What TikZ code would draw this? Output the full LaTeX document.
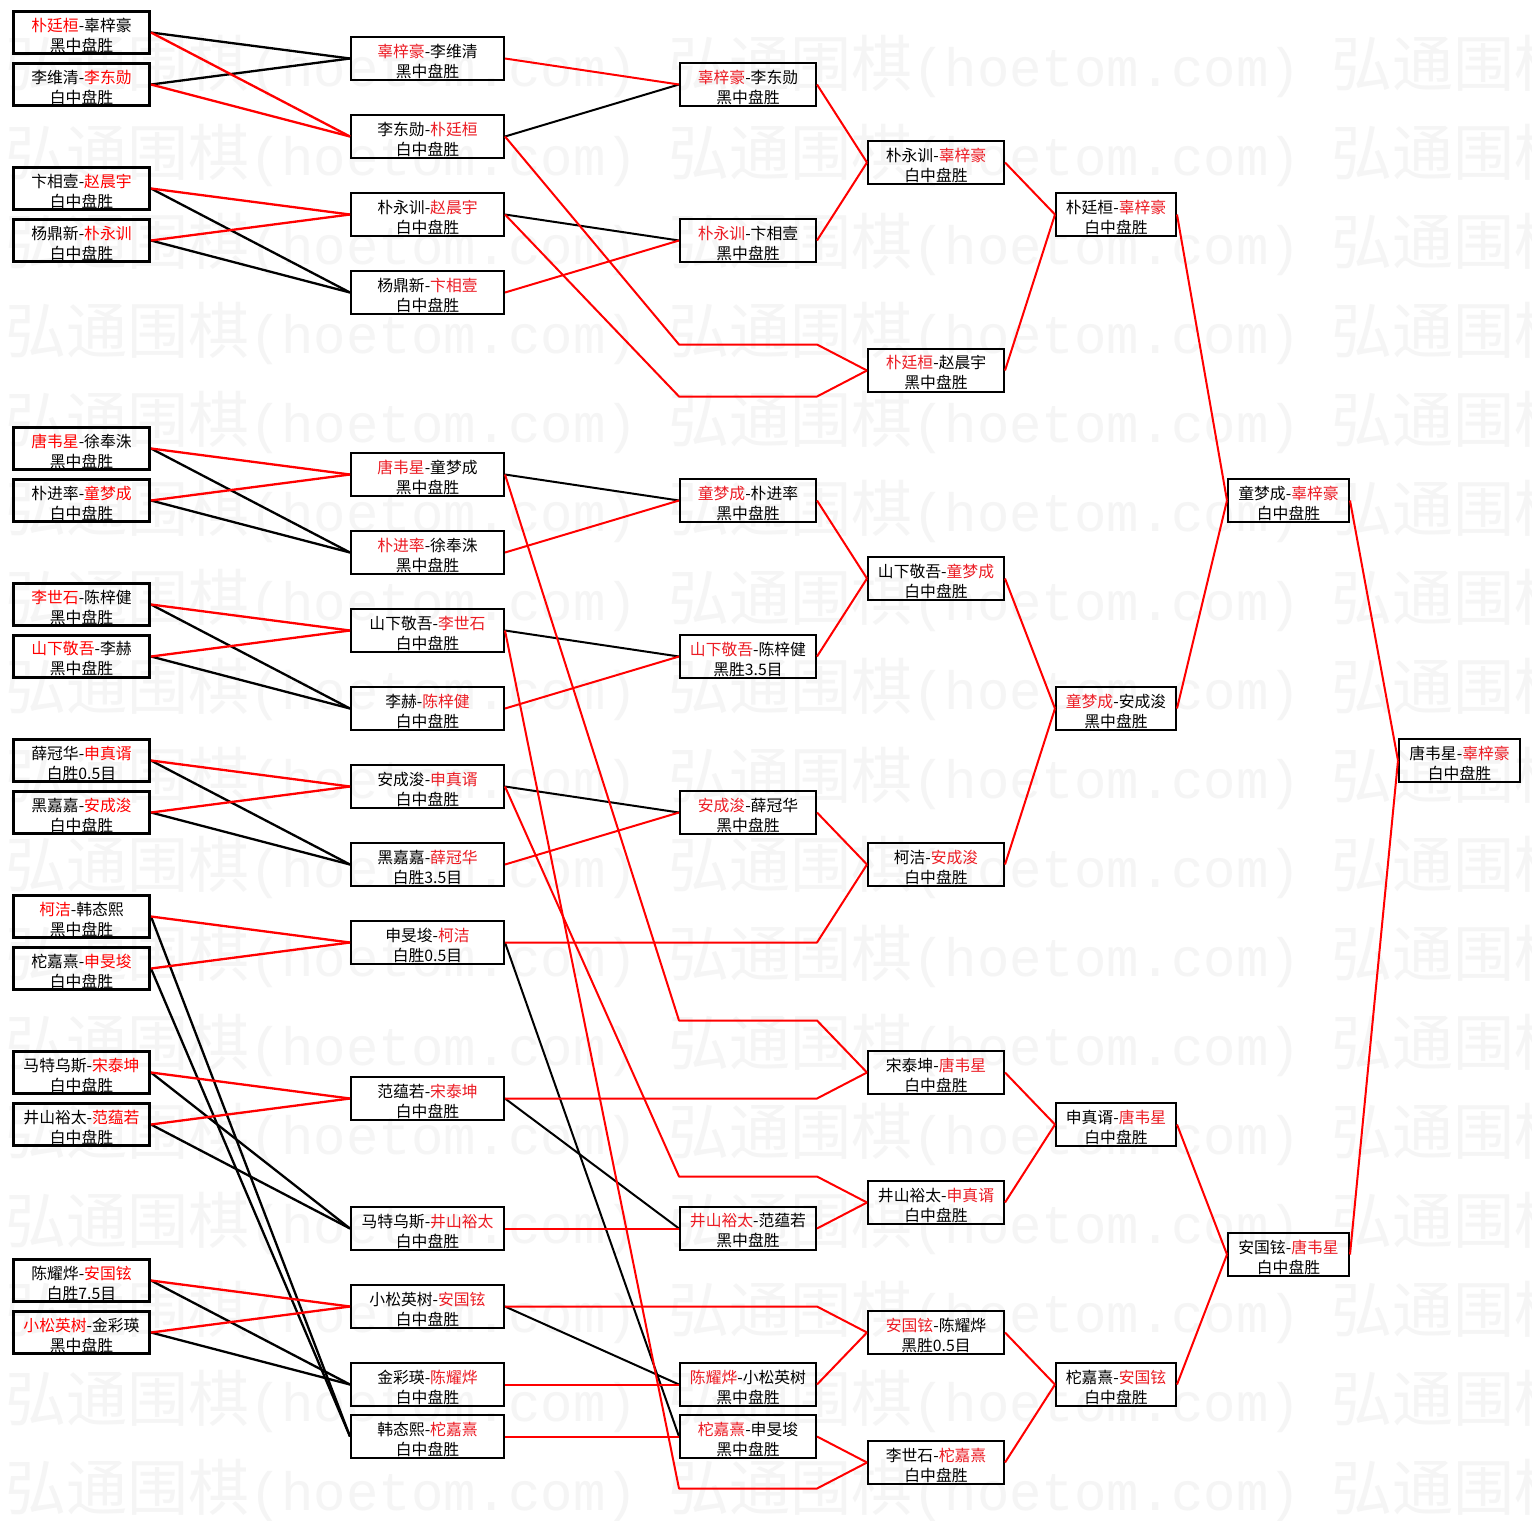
\documentclass[tikz,border=0pt]{standalone}
\usepackage{fontspec}
\newfontfamily\cjk{Noto Sans CJK SC}
\newfontfamily\wmono{Liberation Mono}
\definecolor{wred}{RGB}{255,0,0}
\definecolor{tred}{RGB}{236,28,36}
\definecolor{wmark}{RGB}{245,245,245}
\newcommand{\rda}[1]{\textcolor{wred}{#1}}
\newcommand{\rdb}[1]{\textcolor{tred}{#1}}
\tikzset{
  wm/.style={anchor=west, inner sep=0pt, text=wmark, font=\cjk},
  box/.style={draw, rectangle, inner sep=0pt},
  txt/.style={inner sep=0pt, align=center, font=\cjk\fontsize{15.8}{20}\selectfont},
  boxA/.style={box, line width=3pt, minimum width=136pt, minimum height=42pt},
  boxB/.style={box, line width=2pt, minimum height=43pt},
  colb/.style={boxB, minimum width=153pt},
  colc/.style={boxB, minimum width=136pt},
  cole/.style={boxB, minimum width=120pt},
  colf/.style={boxB, minimum width=121pt},
  lnA/.style={line width=2.3pt, line join=round},
  lnB/.style={line width=2pt, line join=round},
  wline/.style={draw=wred},
  lline/.style={draw=black}
}
% box node plus its two-line text node
\newcommand{\gbox}[5]{%
  \node[#1] (#2) at (#3) {};
  \node[txt] (#2-t) at ([yshift=-2.5pt]#2.center) {#4\\#5};}
\begin{document}
\begin{tikzpicture}[x=1pt,y=-1pt]
\useasboundingbox (0,0) rectangle (1532,1521);
\fill[white] (0,0) rectangle (1532,1521);
\begin{scope}
\clip (0,0) rectangle (1532,1521);
\foreach \k in {0,...,16}{\foreach \j in {0,1,2}{
  \node[wm] (wm-\k-\j) at ({5+663*\j},{66+89*\k}) {{\fontsize{61}{61}\selectfont 弘通围棋}{\wmono\fontsize{54}{54}\selectfont (hoetom.com)}};
}}
\end{scope}

% column 1
\gbox{boxA}{a1}{81.5,32.5}{\rda{朴廷桓}-辜梓豪}{黑中盘胜}
\gbox{boxA}{a2}{81.5,84.5}{李维清-\rda{李东勋}}{白中盘胜}
\gbox{boxA}{a3}{81.5,188.5}{卞相壹-\rda{赵晨宇}}{白中盘胜}
\gbox{boxA}{a4}{81.5,240.5}{杨鼎新-\rda{朴永训}}{白中盘胜}
\gbox{boxA}{a5}{81.5,448.5}{\rda{唐韦星}-徐奉洙}{黑中盘胜}
\gbox{boxA}{a6}{81.5,500.5}{朴进率-\rda{童梦成}}{白中盘胜}
\gbox{boxA}{a7}{81.5,604.5}{\rda{李世石}-陈梓健}{黑中盘胜}
\gbox{boxA}{a8}{81.5,656.5}{\rda{山下敬吾}-李赫}{黑中盘胜}
\gbox{boxA}{a9}{81.5,760.5}{薛冠华-\rda{申真谞}}{白胜0.5目}
\gbox{boxA}{a10}{81.5,812.5}{黑嘉嘉-\rda{安成浚}}{白中盘胜}
\gbox{boxA}{a11}{81.5,916.5}{\rda{柯洁}-韩态熙}{黑中盘胜}
\gbox{boxA}{a12}{81.5,968.5}{柁嘉熹-\rda{申旻埈}}{白中盘胜}
\gbox{boxA}{a13}{81.5,1072.5}{马特乌斯-\rda{宋泰坤}}{白中盘胜}
\gbox{boxA}{a14}{81.5,1124.5}{井山裕太-\rda{范蕴若}}{白中盘胜}
\gbox{boxA}{a15}{81.5,1280.5}{陈耀烨-\rda{安国铉}}{白胜7.5目}
\gbox{boxA}{a16}{81.5,1332.5}{\rda{小松英树}-金彩瑛}{黑中盘胜}

% column 2
\gbox{colb}{b1}{427.5,58.5}{\rdb{辜梓豪}-李维清}{黑中盘胜}
\gbox{colb}{b2}{427.5,136.5}{李东勋-\rdb{朴廷桓}}{白中盘胜}
\gbox{colb}{b3}{427.5,214.5}{朴永训-\rdb{赵晨宇}}{白中盘胜}
\gbox{colb}{b4}{427.5,292.5}{杨鼎新-\rdb{卞相壹}}{白中盘胜}
\gbox{colb}{b5}{427.5,474.5}{\rdb{唐韦星}-童梦成}{黑中盘胜}
\gbox{colb}{b6}{427.5,552.5}{\rdb{朴进率}-徐奉洙}{黑中盘胜}
\gbox{colb}{b7}{427.5,630.5}{山下敬吾-\rdb{李世石}}{白中盘胜}
\gbox{colb}{b8}{427.5,708.5}{李赫-\rdb{陈梓健}}{白中盘胜}
\gbox{colb}{b9}{427.5,786.5}{安成浚-\rdb{申真谞}}{白中盘胜}
\gbox{colb}{b10}{427.5,864.5}{黑嘉嘉-\rdb{薛冠华}}{白胜3.5目}
\gbox{colb}{b11}{427.5,942.5}{申旻埈-\rdb{柯洁}}{白胜0.5目}
\gbox{colb}{b12}{427.5,1098.5}{范蕴若-\rdb{宋泰坤}}{白中盘胜}
\gbox{colb}{b13}{427.5,1228.5}{马特乌斯-\rdb{井山裕太}}{白中盘胜}
\gbox{colb}{b14}{427.5,1306.5}{小松英树-\rdb{安国铉}}{白中盘胜}
\gbox{colb}{b15}{427.5,1384.5}{金彩瑛-\rdb{陈耀烨}}{白中盘胜}
\gbox{colb}{b16}{427.5,1436.5}{韩态熙-\rdb{柁嘉熹}}{白中盘胜}

% column 3
\gbox{colc}{c1}{748,84.5}{\rdb{辜梓豪}-李东勋}{黑中盘胜}
\gbox{colc}{c2}{748,240.5}{\rdb{朴永训}-卞相壹}{黑中盘胜}
\gbox{colc}{c3}{748,500.5}{\rdb{童梦成}-朴进率}{黑中盘胜}
\gbox{colc}{c4}{748,656.5}{\rdb{山下敬吾}-陈梓健}{黑胜3.5目}
\gbox{colc}{c5}{748,812.5}{\rdb{安成浚}-薛冠华}{黑中盘胜}
\gbox{colc}{c6}{748,1228.5}{\rdb{井山裕太}-范蕴若}{黑中盘胜}
\gbox{colc}{c7}{748,1384.5}{\rdb{陈耀烨}-小松英树}{黑中盘胜}
\gbox{colc}{c8}{748,1436.5}{\rdb{柁嘉熹}-申旻埈}{黑中盘胜}

% column 4
\gbox{colc}{d1}{936,162.5}{朴永训-\rdb{辜梓豪}}{白中盘胜}
\gbox{colc}{d2}{936,370.5}{\rdb{朴廷桓}-赵晨宇}{黑中盘胜}
\gbox{colc}{d3}{936,578.5}{山下敬吾-\rdb{童梦成}}{白中盘胜}
\gbox{colc}{d4}{936,864.5}{柯洁-\rdb{安成浚}}{白中盘胜}
\gbox{colc}{d5}{936,1072.5}{宋泰坤-\rdb{唐韦星}}{白中盘胜}
\gbox{colc}{d6}{936,1202.5}{井山裕太-\rdb{申真谞}}{白中盘胜}
\gbox{colc}{d7}{936,1332.5}{\rdb{安国铉}-陈耀烨}{黑胜0.5目}
\gbox{colc}{d8}{936,1462.5}{李世石-\rdb{柁嘉熹}}{白中盘胜}

% column 5
\gbox{cole}{e1}{1116,214.5}{朴廷桓-\rdb{辜梓豪}}{白中盘胜}
\gbox{cole}{e2}{1116,708.5}{\rdb{童梦成}-安成浚}{黑中盘胜}
\gbox{cole}{e3}{1116,1124.5}{申真谞-\rdb{唐韦星}}{白中盘胜}
\gbox{cole}{e4}{1116,1384.5}{柁嘉熹-\rdb{安国铉}}{白中盘胜}

% column 6
\gbox{colf}{f1}{1288.5,500.5}{童梦成-\rdb{辜梓豪}}{白中盘胜}
\gbox{colf}{f2}{1288.5,1254.5}{安国铉-\rdb{唐韦星}}{白中盘胜}

% column 7
\gbox{colf}{g}{1459.5,760.5}{唐韦星-\rdb{辜梓豪}}{白中盘胜}

% way points
\coordinate (p2a) at (679,344.5); \coordinate (p2b) at (817,344.5);
\coordinate (p3a) at (679,396.5); \coordinate (p3b) at (817,396.5);
\coordinate (p5a) at (679,1020.5); \coordinate (p5b) at (817,1020.5);
\coordinate (p7a) at (679,1488.5); \coordinate (p7b) at (817,1488.5);
\coordinate (p9a) at (679,1176.5); \coordinate (p9b) at (817,1176.5);
\coordinate (p11) at (817,942.5);
\coordinate (p12) at (817,1098.5);
\coordinate (p14) at (817,1306.5);

% round 1 losers (black)
\foreach \s/\t in {a1/b1,a2/b1,a3/b4,a4/b4,a5/b6,a6/b6,a7/b8,a8/b8,a9/b10,a10/b10,a11/b16,a12/b16,a13/b13,a14/b13,a15/b15,a16/b15}
  \draw[lnA,lline] (\s.east) -- (\t.west);
% round 1 winners (red)
\foreach \s/\t in {a1/b2,a2/b2,a3/b3,a4/b3,a5/b5,a6/b5,a7/b7,a8/b7,a9/b9,a10/b9,a11/b11,a12/b11,a13/b12,a14/b12,a15/b14,a16/b14}
  \draw[lnA,wline] (\s.east) -- (\t.west);

% round 2 losers (black)
\foreach \s/\t in {b2/c1,b3/c2,b5/c3,b7/c4,b9/c5,b11/c8,b12/c6,b14/c7}
  \draw[lnB,lline] (\s.east) -- (\t.west);
% losers bracket winners (red)
\foreach \s/\t in {b1/c1,b4/c2,b6/c3,b8/c4,b10/c5,b13/c6,b15/c7,b16/c8}
  \draw[lnB,wline] (\s.east) -- (\t.west);
% winners bracket (red, long paths)
\draw[lnB,wline] (b2.east) -- (p2a) -- (p2b) -- (d2.west);
\draw[lnB,wline] (b3.east) -- (p3a) -- (p3b) -- (d2.west);
\draw[lnB,wline] (b5.east) -- (p5a) -- (p5b) -- (d5.west);
\draw[lnB,wline] (b7.east) -- (p7a) -- (p7b) -- (d8.west);
\draw[lnB,wline] (b9.east) -- (p9a) -- (p9b) -- (d6.west);
\draw[lnB,wline] (b11.east) -- (p11) -- (d4.west);
\draw[lnB,wline] (b12.east) -- (p12) -- (d5.west);
\draw[lnB,wline] (b14.east) -- (p14) -- (d7.west);

% later rounds
\foreach \s/\t in {c1/d1,c2/d1,c3/d3,c4/d3,c5/d4,c6/d6,c7/d7,c8/d8,
  d1/e1,d2/e1,d3/e2,d4/e2,d5/e3,d6/e3,d7/e4,d8/e4,
  e1/f1,e2/f1,e3/f2,e4/f2,f1/g,f2/g}
  \draw[lnB,wline] (\s.east) -- (\t.west);
\end{tikzpicture}
\end{document}
